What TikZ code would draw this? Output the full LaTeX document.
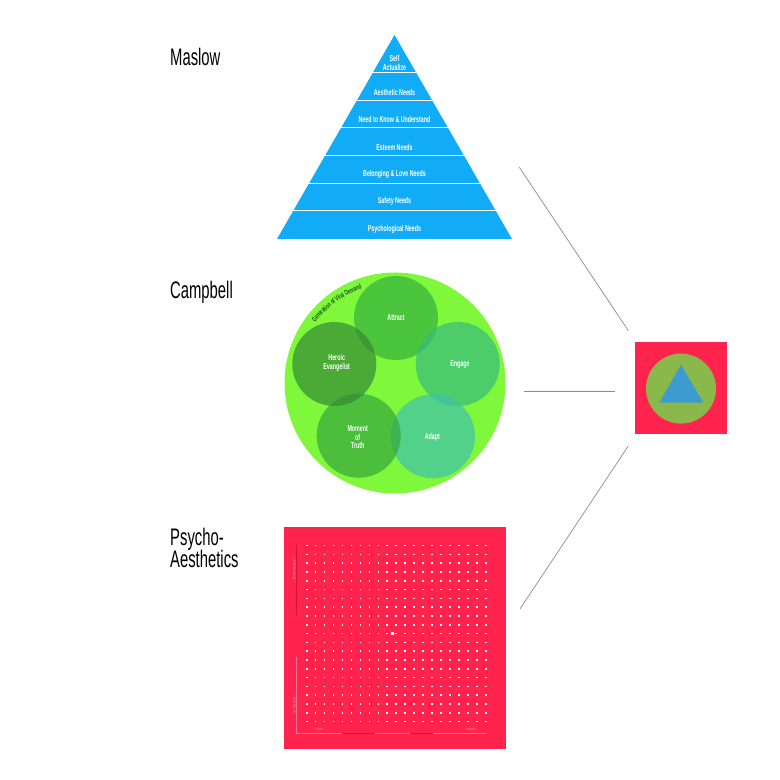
\documentclass[tikz,border=0pt]{standalone}
\usepackage{fontspec}
\setmainfont{Liberation Sans}
\newfontfamily\headfont[FakeStretch=0.62]{Liberation Sans}
\newfontfamily\condfont[FakeStretch=0.62]{Liberation Sans}
\usetikzlibrary{decorations.text}
\definecolor{pyblue}{RGB}{18,172,246}
\definecolor{lime}{RGB}{127,247,58}
\definecolor{cAttract}{RGB}{54,177,62}
\definecolor{cHeroic}{RGB}{53,137,51}
\definecolor{cEngage}{RGB}{56,186,127}
\definecolor{cAdapt}{RGB}{63,193,172}
\definecolor{cMoment}{RGB}{53,167,61}
\definecolor{darkgreen}{RGB}{28,84,30}
\definecolor{hotred}{RGB}{255,35,78}
\definecolor{axispink}{RGB}{255,120,150}
\definecolor{axisdark}{RGB}{205,20,55}
\definecolor{labpink}{RGB}{255,150,170}
\definecolor{olive}{RGB}{139,184,74}
\definecolor{triblue}{RGB}{61,155,208}
\definecolor{linegray}{RGB}{140,140,140}
\begin{document}
\begin{tikzpicture}[x=1bp,y=1bp,
  head/.style={anchor=base west, font=\headfont\fontsize{24}{24}\selectfont, inner sep=0, align=left},
  plabel/.style={font=\condfont\bfseries\fontsize{8.6}{8.2}\selectfont, text=white, align=center, inner sep=0},
  clabel/.style={font=\condfont\bfseries\fontsize{8.6}{8.6}\selectfont, text=white, align=center, inner sep=0},
  smallc/.style={fill opacity=0.7, draw=none},
  glabel/.style={font=\condfont\fontsize{3.6}{3.6}\selectfont, text=labpink, inner sep=0},
  conn/.style={draw=linegray, line width=0.7bp}]
\useasboundingbox (0,0) rectangle (780,780);

% headings
\node[head] (hMaslow) at (170,714) {Maslow};
\node[head] (hCampbell) at (170,481) {Campbell};
\node[head] (hPsycho) at (170,234) {Psycho-};
\node[head] (hAesth) at (170,212) {Aesthetics};

% Maslow pyramid
\coordinate (apex) at (394.5,745);
\coordinate (bl) at (277,541);
\coordinate (br) at (512,541);
\fill[pyblue] (apex) -- (br) -- (bl) -- cycle;
\begin{scope}
  \clip (apex) -- (br) -- (bl) -- cycle;
  \foreach \yy in {707.3,679.7,652,624.3,596.7,569.3}
    \draw[white, line width=1bp] (270,\yy) -- (520,\yy);
\end{scope}
\node[plabel] (p1) at (394.5,717) {Self\\Actualize};
\node[plabel] (p2) at (394.5,687.3) {Aesthetic Needs};
\node[plabel] (p3) at (394.5,660.3) {Need to Know \& Understand};
\node[plabel] (p4) at (394.5,633) {Esteem Needs};
\node[plabel] (p5) at (394.5,606) {Belonging \& Love Needs};
\node[plabel] (p6) at (394.5,579) {Safety Needs};
\node[plabel] (p7) at (394.5,551) {Psychological Needs};

% Campbell circles
\fill[lime] (395,397) circle (110.5);
\fill[cAttract, smallc] (396,462) circle (42);
\fill[cEngage, smallc] (457.7,416) circle (42);
\fill[cAdapt, smallc] (433,343.7) circle (42);
\fill[cMoment, smallc] (358.7,344.3) circle (42);
\fill[cHeroic, smallc] (334.3,416) circle (42);
\node[clabel] (cA) at (396,462) {Attract};
\node[clabel] (cE) at (460,416) {Engage};
\node[clabel] (cD) at (432.3,343) {Adapt};
\node[clabel] (cH) at (336.7,417) {Heroic\\Evangelist};
\node[clabel] (cM) at (357.7,342.7) {Moment\\of\\Truth};
\path[decorate, decoration={text along path, text align=center,
  text={|\condfont\bfseries\fontsize{7.2}{7.2}\selectfont\color{darkgreen}|Generation of Viral Demand}}]
  (395,397) ++(152:100) arc (152:100:100);

% Psycho-Aesthetics grid
\fill[hotred] (284,31) rectangle (506,253);
\foreach \i in {0,...,20}
  \foreach \j in {0,...,20}
    \fill[white] ({306.7+8.95*\i-0.8},{234.3-8.8*\j-0.8}) rectangle ++(1.6,1.6);
\fill[white] (390.5,144.8) rectangle ++(3,3);
\draw[axisdark, line width=0.5bp] (296.7,235) -- (296.7,165);
\draw[axispink, line width=0.5bp] (296.7,123) -- (296.7,47) -- (487,47);
\draw[axisdark, line width=0.5bp] (341.7,47) -- (375,47);
\draw[axisdark, line width=0.5bp] (410,47) -- (433,47);
\node[glabel, rotate=90] (gTop) at (294.5,211) {Extreme Engagement};
\node[glabel, rotate=90] (gBot) at (294.5,75) {Low Engagement};
\node[glabel] (gLeft) at (319,50.5) {Passive};
\node[glabel] (gRight) at (471,50.5) {Immersive};

% right synthesis box
\fill[hotred] (635,345.7) rectangle (727,437.7);
\fill[olive] (681,391.4) circle (35);
\fill[triblue] (681,415.3) -- (703.3,377.3) -- (659.3,377.3) -- cycle;

% connectors
\coordinate (m1) at (519.3,612.7);
\coordinate (m2) at (628.3,449.3);
\coordinate (c1) at (524,388.3);
\coordinate (c2) at (615,388.3);
\coordinate (g1) at (520,171);
\coordinate (g2) at (628.3,334);
\draw[conn] (m1) -- (m2);
\draw[conn] (c1) -- (c2);
\draw[conn] (g1) -- (g2);
\end{tikzpicture}
\end{document}
